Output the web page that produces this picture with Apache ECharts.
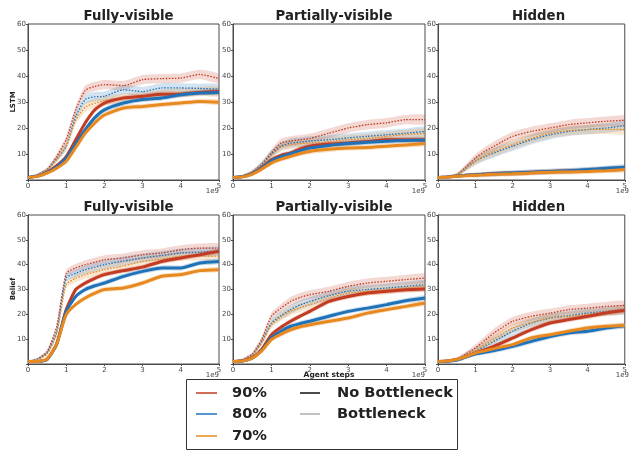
<!DOCTYPE html>
<html><head><meta charset="utf-8">
<script src="https://cdn.jsdelivr.net/npm/echarts@6/dist/echarts.min.js"></script>
<style>html,body{margin:0;padding:0;background:#fff}#c{width:630px;height:450px}</style>
</head><body><div id="c"></div>
<script>
// x positions (units of 1e9 agent steps)
const steps = [0,0.25,0.5,0.75,1,1.25,1.5,1.75,2,2.5,3,3.5,4,4.5,5];
const xTicks = ['0','1','2','3','4','5'];
const yTicks = ['10','20','30','40','50','60'];
const panelTitles = ['Fully-visible','Partially-visible','Hidden'];
const rowLabels = ['LSTM','Belief'];
const levels = ['90%','80%','70%'];
const kinds = ['No Bottleneck','Bottleneck'];
// relative spread of the shaded bands along x
const bandProfile = [0.2,0.3,0.4,0.6,0.8,0.9,1,1,1,1,1,1,1,1,1];
// band half-widths: [no bottleneck, bottleneck]
const bandHalf = [1.0, 1.8];

// LSTM, Fully-visible
const lstmFull90 = [1,1.5,3,5.5,9,15.5,22,27,29.6,31.5,32.2,33,33,33.7,34];
const lstmFull80 = [1,1.5,2.8,5,8.5,14,19.4,24,27,29.6,31,31.5,32.8,33.5,33.7];
const lstmFull70 = [1,1.4,2.6,4.5,7.2,12.5,18,22,25,27.7,28.3,29,29.6,30.2,29.9];
const lstmFull90b = [1,2,4,9,15.5,27,34.5,36,36.7,36.3,38.6,39,39.2,40.6,39];
const lstmFull80b = [1,2,4,8,13,24.5,31,32,32.2,34.7,34,35.4,35.4,35.2,35];
const lstmFull70b = [1,2,3.8,8,13,23,28,29.5,30.5,31.5,32,33,33.5,34,34];
// LSTM, Partially-visible
const lstmPart90 = [1,1.3,2.5,4.8,7.8,9.5,10.4,12,13,13.8,14.2,14.8,15.5,15.5,15.5];
const lstmPart80 = [1,1.3,2.4,4.6,7.4,9,10.1,11.3,12.3,13.3,14,14.5,14.9,15.2,15.3];
const lstmPart70 = [1,1.2,2.2,4.2,6.5,8,9.1,10.2,11,11.8,12.3,12.5,13,13.5,14];
const lstmPart90b = [1,1.5,3,6,10.4,14.2,15,15.5,16,18,20,21.3,22,23.2,23.2];
const lstmPart80b = [1,1.5,3,6,10,13,14.2,14.6,15,15.5,16.2,16.8,17.4,18,18.7];
const lstmPart70b = [1,1.5,3,5.5,9.5,12.5,13.6,14,14.2,14.8,15.5,16,16.8,17.5,18];
// LSTM, Hidden
const lstmHid90 = [1,1.2,1.5,1.8,2,2.2,2.4,2.6,2.6,2.9,3.2,3.5,3.8,4.2,4.5];
const lstmHid80 = [1,1.2,1.5,1.8,2,2.2,2.4,2.6,2.7,3,3.3,3.6,4,4.5,4.9];
const lstmHid70 = [1,1.1,1.4,1.6,1.8,2,2.2,2.3,2.4,2.7,3,3.1,3.3,3.6,4];
const lstmHid90b = [1,1.3,2,5,8.5,11,13,15,16.8,18.7,20,21.3,22,22.6,23];
const lstmHid80b = [1,1.2,1.8,4.5,7.2,9,10.4,11.8,13,15.5,17.4,18.7,19.4,20,20.9];
const lstmHid70b = [1,1.2,1.8,4.5,7.2,9.2,10.8,12.3,13.6,16,18,19,19.4,19.5,19.4];
// Belief, Fully-visible
const belFull90 = [1,1,2,8,21.9,30,32.6,34.5,36,37.6,39,41.3,42.7,44,45.4];
const belFull80 = [1,1,1.8,8,21.2,27.2,30,31.5,32.6,35.3,37.3,38.7,38.7,40.7,41.3];
const belFull70 = [1,1,2,8,19.9,24,26.6,28.5,30,30.6,32.6,35.3,36,37.6,38];
const belFull90b = [1,2,5,15,36.4,38.7,40,41,42,42.7,44,44.7,46,46.7,46.7];
const belFull80b = [1,2,4.5,13,34.6,36.5,38,39,40,41.5,42.7,43.7,44.7,45,45.4];
const belFull70b = [1,1.8,4,12,32,34.5,36,37,38,39.5,41.3,42.3,43.4,43.5,43.4];
// Belief, Partially-visible
const belPart90 = [1,1.3,2.5,6,11.8,14.8,17.2,19.3,21.2,25.2,27.2,28.6,29.3,29.9,30.2];
const belPart80 = [1,1.2,2.3,5.5,10.5,13.2,15.2,16.3,17.2,19.2,21.2,22.5,23.9,25.5,26.6];
const belPart70 = [1,1.2,2.3,5.3,9.8,12,13.8,15,15.8,17.2,18.5,20.5,21.9,23.2,24.6];
const belPart90b = [1,1.8,4,10,19.2,22.5,25.2,26.8,27.9,29.3,31.3,32.6,33.3,34,34.6];
const belPart80b = [1,1.6,3.5,9,16.5,19.5,21.9,23.8,25.2,27.5,29.3,30,30.6,31.3,31.9];
const belPart70b = [1,1.6,3.5,8.5,15.8,19,21.2,22.7,23.9,26.5,28.6,29.3,29.9,30.6,31.3];
// Belief, Hidden
const belHid90 = [1,1.2,1.8,3,4.4,5.7,7.1,8.8,10.5,13.8,16.5,17.9,19.2,20.5,21.5];
const belHid80 = [1,1.1,1.5,2.8,4,4.7,5.4,6.2,7.1,9.1,11.1,12.5,13.2,14.5,15.4];
const belHid70 = [1,1.2,1.8,3,4.4,5.3,6.2,7,7.8,10.5,11.8,13.2,14.5,15.2,15.5];
const belHid90b = [1,1.3,2,4,6.4,9.5,12.5,15,17.2,19.2,20.5,21.9,22.5,23.2,23.6];
const belHid80b = [1,1.2,1.8,3.5,5.1,7,9.1,11.2,13.2,16.5,18.5,19.5,20.5,21.2,21.9];
const belHid70b = [1,1.2,1.8,3.5,5.3,7.7,10,12.3,14.5,16.8,18.5,19.2,19.9,21,21.9];

const panels = [
  [[lstmFull90,lstmFull80,lstmFull70],[lstmFull90b,lstmFull80b,lstmFull70b]],
  [[lstmPart90,lstmPart80,lstmPart70],[lstmPart90b,lstmPart80b,lstmPart70b]],
  [[lstmHid90,lstmHid80,lstmHid70],[lstmHid90b,lstmHid80b,lstmHid70b]],
  [[belFull90,belFull80,belFull70],[belFull90b,belFull80b,belFull70b]],
  [[belPart90,belPart80,belPart70],[belPart90b,belPart80b,belPart70b]],
  [[belHid90,belHid80,belHid70],[belHid90b,belHid80b,belHid70b]]
];

const colors = ['#c23b22','#1f72b8','#e8891f'];
const FONT = 'DejaVu Sans';
const colLeft = [28, 233, 438];
const colWidth = [191, 192, 191];
const rowTop = [24, 215];
const rowHeight = [156, 149];

function bandSeries(p, vals, half, color, opacity) {
  const data = steps.map((x, i) => [x, Math.max(0, vals[i] - half * bandProfile[i]), vals[i] + half * bandProfile[i]]);
  return {
    type: 'custom', xAxisIndex: p, yAxisIndex: p, silent: true, z: 1, clip: true,
    encode: {x: 0, y: [1, 2]},
    data: data,
    renderItem: function (params, api) {
      if (params.dataIndex !== 0) return null;
      const upper = data.map(d => api.coord([d[0], d[2]]));
      const lower = data.map(d => api.coord([d[0], d[1]])).reverse();
      return {type: 'polygon', shape: {points: upper.concat(lower), smooth: 0.2},
        style: {fill: color, opacity: opacity, stroke: null}};
    }
  };
}

const grids = [], xAxes = [], yAxes = [], series = [], titles = [], graphics = [];
for (let p = 0; p < 6; p++) {
  const r = Math.floor(p / 3), c = p % 3;
  grids.push({left: colLeft[c], top: rowTop[r], width: colWidth[c], height: rowHeight[r],
    show: true, borderColor: '#4a4a4a', borderWidth: 1, containLabel: false});
  xAxes.push({type: 'value', gridIndex: p, min: 0, max: 5, interval: 1,
    axisLine: {show: true, onZero: false, lineStyle: {color: '#4a4a4a'}},
    axisTick: {show: true, length: 2, lineStyle: {color: '#4a4a4a'}},
    splitLine: {show: false},
    axisLabel: {fontFamily: FONT, fontSize: 7, color: '#444', margin: 3,
      formatter: v => xTicks[Math.round(v)] || ''}});
  yAxes.push({type: 'value', gridIndex: p, min: 0, max: 60, interval: 10,
    axisLine: {show: true, lineStyle: {color: '#4a4a4a'}},
    axisTick: {show: true, length: 2, lineStyle: {color: '#4a4a4a'}},
    splitLine: {show: false},
    axisLabel: {fontFamily: FONT, fontSize: 7, color: '#444', margin: 2,
      formatter: v => v === 0 ? '' : yTicks[Math.round(v / 10) - 1]}});
  titles.push({text: panelTitles[c], left: colLeft[c] + colWidth[c] / 2, top: rowTop[r] - 19,
    textAlign: 'center',
    textStyle: {fontFamily: FONT, fontSize: 13.3, fontWeight: 'bold', color: '#222'}});
  graphics.push({type: 'text', right: 630 - (colLeft[c] + colWidth[c]), top: rowTop[r] + rowHeight[r] + 8,
    style: {text: '1e9', font: '7px "DejaVu Sans"', fill: '#444'}});

  for (let k = 1; k >= 0; k--) {
    for (let j = 0; j < 3; j++) {
      series.push(bandSeries(p, panels[p][k][j], bandHalf[k], colors[j], k ? 0.2 : 0.25));
    }
  }
  for (let k = 1; k >= 0; k--) {
    for (let j = 0; j < 3; j++) {
      const vals = panels[p][k][j];
      series.push({type: 'line', xAxisIndex: p, yAxisIndex: p, silent: true, symbol: 'none',
        smooth: 0.2, name: levels[j] + ' ' + kinds[k], z: k ? 3 : 4,
        lineStyle: k ? {color: colors[j], width: 1.3, type: [1.5, 1.5]} : {color: colors[j], width: 3},
        data: steps.map((x, i) => [x, vals[i]])});
    }
  }
}

// row labels and x-axis name
graphics.push({type: 'text', x: 13, y: 102, rotation: Math.PI / 2, style: {text: rowLabels[0],
  font: 'bold 7px "DejaVu Sans"', fill: '#222', textAlign: 'center', textVerticalAlign: 'middle'}});
graphics.push({type: 'text', x: 13, y: 289, rotation: Math.PI / 2, style: {text: rowLabels[1],
  font: 'bold 7px "DejaVu Sans"', fill: '#222', textAlign: 'center', textVerticalAlign: 'middle'}});
graphics.push({type: 'text', x: 329, y: 375, style: {text: 'Agent steps',
  font: 'bold 7.5px "DejaVu Sans"', fill: '#222', textAlign: 'center', textVerticalAlign: 'middle'}});

// legend box
graphics.push({type: 'rect', shape: {x: 186.5, y: 379.5, width: 271, height: 70},
  style: {fill: '#fff', stroke: '#333', lineWidth: 1}, z: 10});
const rowsY = [393, 414, 436];
for (let j = 0; j < 3; j++) {
  graphics.push({type: 'line', shape: {x1: 196, y1: rowsY[j], x2: 217, y2: rowsY[j]},
    style: {stroke: colors[j], lineWidth: 1.5}, z: 11});
  graphics.push({type: 'text', x: 232, y: rowsY[j], style: {text: levels[j],
    font: 'bold 14.6px "DejaVu Sans"', fill: '#222', textVerticalAlign: 'middle'}, z: 11});
}
graphics.push({type: 'line', shape: {x1: 300, y1: rowsY[0], x2: 320, y2: rowsY[0]},
  style: {stroke: '#111', lineWidth: 1.5}, z: 11});
graphics.push({type: 'line', shape: {x1: 300, y1: rowsY[1], x2: 320, y2: rowsY[1]},
  style: {stroke: '#666', lineWidth: 0.8}, z: 11});
graphics.push({type: 'text', x: 337, y: rowsY[0], style: {text: kinds[0],
  font: 'bold 14.6px "DejaVu Sans"', fill: '#222', textVerticalAlign: 'middle'}, z: 11});
graphics.push({type: 'text', x: 337, y: rowsY[1], style: {text: kinds[1],
  font: 'bold 14.6px "DejaVu Sans"', fill: '#222', textVerticalAlign: 'middle'}, z: 11});

const chart = echarts.init(document.getElementById('c'), null, {renderer: 'canvas'});
chart.setOption({animation: false, backgroundColor: '#fff', title: titles, grid: grids,
  xAxis: xAxes, yAxis: yAxes, series: series, graphic: graphics});
</script></body></html>
